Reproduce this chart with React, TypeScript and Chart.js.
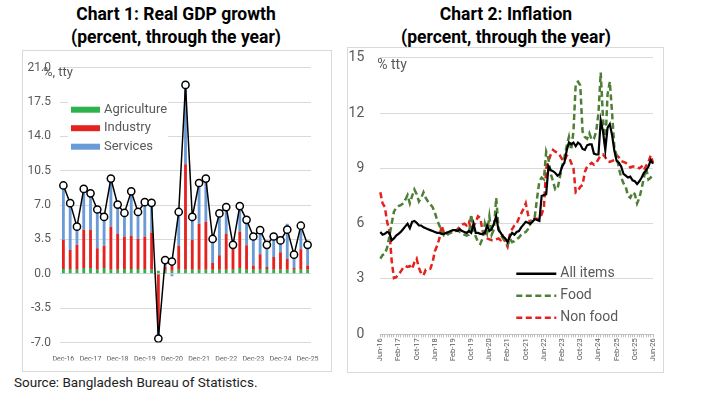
import { useEffect, useRef } from 'react';
import { Chart, registerables } from 'chart.js';

Chart.register(...registerables);

const FONT = 'Roboto, "Noto Sans", sans-serif';
const GRAY = '#595959';
const GRID = '#d9d9d9';

const MONTHS = ['Jan', 'Feb', 'Mar', 'Apr', 'May', 'Jun', 'Jul', 'Aug', 'Sep', 'Oct', 'Nov', 'Dec'];

// quarterly, Dec-16 .. Dec-25
const quarterLabels = Array.from({ length: 37 }, (_, i) => {
  const k = 11 + i * 3;
  return `${MONTHS[k % 12]}-${16 + Math.floor(k / 12)}`;
});

// monthly, Jun-16 .. Jun-26
const monthLabels = Array.from({ length: 121 }, (_, i) => {
  const k = 5 + i;
  return `${MONTHS[k % 12]}-${16 + Math.floor(k / 12)}`;
});

// Chart 1: contributions to real GDP growth
const agriculture = [
  0.5, 0.5, 0.4, 0.6, 0.6, 0.4, 0.6, 0.4, 0.4, 0.5, 0.5, 0.5, 0.5, 0.4, 0.3, 0.3, 0.3, 0.4, 0.4,
  0.4, 0.4, 0.4, 0.4, 0.4, 0.4, 0.4, 0.6, 0.4, 0.4, 0.4, 0.5, 0.4, 0.4, 0.4, 0.4, 0.4, 0.4,
];
const industry = [
  2.95, 1.93, 2.57, 3.9, 3.9, 2.2, 2.27, 4.4, 3.65, 3.3, 3.35, 3.05, 3.3, 3.8, -5.5, 0.4, 1.2, 2.45,
  10.75, 3.05, 4.7, 4.9, 0.7, 1.5, 3.65, 2.5, 3.7, 2.5, 0.45, 1.6, 0.2, 1.3, 1.8, 1.1, 0.2, 2.1, 0.45,
];
const services = [
  5.55, 4.77, 1.83, 4.15, 3.7, 3.95, 2.93, 4.9, 3.0, 2.4, 4.55, 2.75, 3.5, 3.03, -1.4, 0.7, -0.25,
  3.45, 8.1, 2.35, 4.15, 4.4, 2.45, 4.25, 2.75, 0.1, 2.6, 2.6, 2.95, 2.45, 2.25, 2.1, 1.2, 3.6, 1.35,
  1.95, 2.1,
];
const gdpTotal = [
  9.0, 7.2, 4.8, 8.65, 8.2, 6.55, 5.8, 9.7, 7.05, 6.2, 8.4, 6.3, 7.3, 7.23, -6.6, 1.4, 1.25, 6.3,
  19.25, 5.8, 9.25, 9.7, 3.55, 6.15, 6.8, 2.95, 6.9, 5.5, 3.8, 4.45, 2.95, 3.8, 3.4, 4.5, 1.95, 4.9,
  2.95,
];

// Chart 2: inflation, monthly
const allItems = [
  5.55, 5.4, 5.45, 5.55, 5.5, 5.1, 5.2, 5.35, 5.45, 5.55, 5.7, 5.85, 6.0, 5.75, 6.1, 6.15, 6.05,
  5.9, 5.9, 5.8, 5.75, 5.7, 5.65, 5.6, 5.55, 5.5, 5.5, 5.45, 5.45, 5.5, 5.55, 5.6, 5.65, 5.65, 5.6,
  5.7, 5.6, 5.55, 5.5, 5.6, 5.5, 6.0, 5.5, 5.5, 5.45, 5.45, 5.5, 5.9, 5.6, 5.7, 6.0, 6.4, 5.65, 5.5,
  5.3, 5.2, 5.0, 5.3, 5.5, 5.4, 5.55, 5.6, 5.8, 5.95, 6.1, 6.05, 6.0, 6.1, 6.25, 6.2, 6.15, 7.5,
  7.55, 7.6, 9.1, 8.9, 8.85, 8.75, 8.6, 8.7, 9.1, 9.3, 9.95, 10.4, 10.3, 10.4, 10.2, 10.4, 10.3,
  10.05, 10.0, 10.25, 10.3, 10.3, 9.8, 9.75, 9.75, 11.6, 11.0, 10.0, 11.2, 11.4, 10.8, 9.95, 9.4,
  9.3, 9.1, 8.7, 8.6, 8.5, 8.55, 8.35, 8.3, 8.15, 8.3, 8.5, 8.75, 8.9, 9.1, 9.45, 9.25,
];
const food = [
  4.1, 4.3, 4.35, 4.7, 5.3, 6.0, 6.65, 6.85, 6.95, 7.0, 7.1, 7.3, 7.55, 7.1, 7.5, 7.85, 7.6, 7.2,
  7.4, 7.7, 7.4, 7.2, 7.05, 6.9, 6.6, 6.2, 5.9, 5.6, 5.35, 5.3, 5.45, 5.5, 5.55, 5.6, 5.65, 5.55,
  5.5, 5.4, 5.35, 5.4, 6.5, 5.6, 5.3, 5.0, 4.9, 5.2, 6.0, 5.5, 6.4, 5.4, 5.7, 7.4, 5.8, 5.4, 5.2,
  5.0, 4.85, 5.2, 5.0, 5.05, 5.15, 5.25, 5.4, 5.5, 5.55, 5.7, 6.0, 6.3, 6.4, 7.4, 8.3, 8.5, 8.4,
  9.9, 9.5, 8.7, 8.3, 7.85, 7.9, 8.5, 9.1, 9.6, 10.2, 10.7, 10.0, 11.0, 13.6, 13.7, 13.5, 11.0,
  10.7, 10.6, 10.9, 10.55, 10.6, 11.0, 12.0, 14.2, 11.7, 10.2, 13.0, 13.7, 12.0, 10.1, 9.7, 9.0,
  8.5, 8.2, 8.0, 7.5, 7.4, 7.7, 7.6, 7.1, 7.4, 7.9, 8.5, 9.0, 8.4, 8.5, 8.7,
];
const nonFood = [
  7.7, 7.1, 6.9, 6.1, 5.6, 4.0, 3.05, 3.1, 3.25, 3.4, 3.6, 3.7, 3.65, 3.7, 3.55, 3.9, 4.1, 3.6,
  3.3, 3.2, 3.5, 3.5, 3.55, 3.9, 4.5, 4.8, 5.2, 5.9, 5.5, 5.4, 5.5, 5.55, 5.6, 5.6, 5.7, 5.85, 5.95,
  6.0, 5.9, 6.1, 5.7, 5.85, 6.1, 6.4, 6.3, 5.6, 5.5, 5.2, 5.15, 5.1, 5.1, 5.15, 5.2, 5.1, 5.3, 5.0,
  4.75, 5.4, 5.7, 5.9, 6.0, 6.3, 6.55, 6.8, 7.1, 6.5, 6.0, 6.2, 6.3, 6.25, 6.3, 6.5, 6.9, 9.0, 9.4,
  9.75, 10.0, 9.9, 9.85, 9.7, 9.5, 9.4, 9.7, 9.6, 9.3, 9.0, 7.7, 7.8, 8.0, 8.1, 8.8, 9.1, 9.2, 9.3,
  9.2, 9.3, 9.5, 9.7, 9.75, 9.6, 9.4, 9.35, 9.4, 9.45, 9.7, 9.6, 9.4, 9.35, 9.3, 9.2, 9.05, 9.1,
  9.1, 9.05, 9.0, 9.1, 8.9, 9.15, 9.35, 9.7, 9.3,
];

const gdpLegendItems: [string, string][] = [
  ['Agriculture', '#2eb24c'],
  ['Industry', '#e42320'],
  ['Services', '#6b9bd6'],
];

const gdpDecor = {
  id: 'gdpDecor',
  beforeDatasetsDraw(chart: Chart) {
    const { ctx, chartArea } = chart;
    const x = chartArea.left + 11;
    const y0 = chartArea.top + 42;
    ctx.save();
    ctx.fillStyle = '#fff';
    ctx.fillRect(x - 3, y0 - 10, 100, 56);
    ctx.font = `13px ${FONT}`;
    ctx.textBaseline = 'middle';
    gdpLegendItems.forEach(([label, color], i) => {
      const cy = y0 + i * 18.5;
      ctx.fillStyle = color;
      ctx.fillRect(x, cy - 3, 29, 6);
      ctx.fillStyle = GRAY;
      ctx.fillText(label, x + 33, cy);
    });
    ctx.fillStyle = GRAY;
    ctx.fillText('%, tty', chartArea.left - 17, chartArea.top + 5);
    ctx.restore();
  },
};

const inflLegendItems: [string, string, number[]][] = [
  ['All items', '#000000', []],
  ['Food', '#4f7f37', [6, 3.5]],
  ['Non food', '#e4211c', [6, 3.5]],
];

const inflDecor = {
  id: 'inflDecor',
  afterDatasetsDraw(chart: Chart) {
    const { ctx, chartArea } = chart;
    const x = chartArea.left + 136;
    const y0 = chartArea.top + 216;
    ctx.save();
    ctx.font = `14px ${FONT}`;
    ctx.textBaseline = 'middle';
    inflLegendItems.forEach(([label, color, dash], i) => {
      const cy = y0 + i * 22;
      ctx.strokeStyle = color;
      ctx.lineWidth = 2.5;
      ctx.setLineDash(dash);
      ctx.beginPath();
      ctx.moveTo(x, cy);
      ctx.lineTo(x + 40, cy);
      ctx.stroke();
      ctx.fillStyle = GRAY;
      ctx.fillText(label, x + 44, cy);
    });
    ctx.setLineDash([]);
    ctx.fillText('% tty', chartArea.left - 3, chartArea.top + 8);
    ctx.restore();
  },
};

function GdpChart() {
  const canvasRef = useRef<HTMLCanvasElement>(null);

  useEffect(() => {
    if (!canvasRef.current) return;
    const chart = new Chart(canvasRef.current, {
      type: 'bar',
      data: {
        labels: quarterLabels,
        datasets: [
          {
            type: 'line',
            label: 'Total',
            data: gdpTotal,
            stack: 'total',
            borderColor: '#000',
            borderWidth: 1.5,
            pointRadius: 3.6,
            pointBackgroundColor: '#fff',
            pointBorderColor: '#000',
            pointBorderWidth: 1.5,
            tension: 0,
            order: 0,
          } as any,
          { label: 'Agriculture', data: agriculture, backgroundColor: '#2eb24c', stack: 'gdp', order: 1 },
          { label: 'Industry', data: industry, backgroundColor: '#e42320', stack: 'gdp', order: 1 },
          { label: 'Services', data: services, backgroundColor: '#6b9bd6', stack: 'gdp', order: 1 },
        ],
      },
      options: {
        animation: false,
        responsive: true,
        maintainAspectRatio: false,
        datasets: { bar: { barPercentage: 0.42, categoryPercentage: 1 } },
        layout: { padding: { top: 16.7, right: 20, bottom: 10.5, left: 0 } },
        plugins: { legend: { display: false }, tooltip: { enabled: false } },
        scales: {
          x: {
            stacked: true,
            offset: true,
            grid: { display: false },
            border: { display: false },
            ticks: {
              autoSkip: false,
              maxRotation: 0,
              minRotation: 0,
              padding: 5,
              color: GRAY,
              font: { size: 7, family: FONT },
              callback: (_v: any, i: number) => (i % 4 === 0 ? quarterLabels[i] : ''),
            },
            afterFit: (s: any) => {
              s.height = 18;
            },
          },
          y: {
            stacked: true,
            min: -7,
            max: 21,
            grid: { color: GRID, drawTicks: false },
            border: { display: false },
            ticks: {
              stepSize: 3.5,
              padding: 9,
              color: GRAY,
              font: { size: 12, family: FONT },
              callback: (v: any) => Number(v).toFixed(1),
            },
            afterFit: (s: any) => {
              s.width = 37;
              s.paddingTop = 0;
              s.paddingBottom = 0;
            },
          },
        },
      },
      plugins: [gdpDecor],
    });
    return () => chart.destroy();
  }, []);

  return <canvas ref={canvasRef} />;
}

function InflationChart() {
  const canvasRef = useRef<HTMLCanvasElement>(null);

  useEffect(() => {
    if (!canvasRef.current) return;
    const chart = new Chart(canvasRef.current, {
      type: 'line',
      data: {
        labels: monthLabels,
        datasets: [
          { label: 'All items', data: allItems, borderColor: '#000', borderWidth: 2.2, pointRadius: 0, tension: 0 },
          { label: 'Food', data: food, borderColor: '#4f7f37', borderWidth: 2.5, borderDash: [6, 3.5], pointRadius: 0, tension: 0 },
          { label: 'Non food', data: nonFood, borderColor: '#e4211c', borderWidth: 2.5, borderDash: [6, 3.5], pointRadius: 0, tension: 0 },
        ],
      },
      options: {
        animation: false,
        responsive: true,
        maintainAspectRatio: false,
        layout: { padding: { top: 9.7, right: 9.7, bottom: 7.7, left: 0 } },
        plugins: { legend: { display: false }, tooltip: { enabled: false } },
        scales: {
          x: {
            grid: { display: true, drawOnChartArea: false, drawTicks: true, tickLength: 3, color: '#bfbfbf' },
            border: { display: true, color: '#bfbfbf' },
            ticks: {
              autoSkip: false,
              minRotation: 90,
              maxRotation: 90,
              padding: 1,
              color: GRAY,
              font: { size: 7.5, family: FONT },
              callback: (_v: any, i: number) => (i % 8 === 0 ? monthLabels[i] : ''),
            },
            afterFit: (s: any) => {
              s.height = 30;
            },
          },
          y: {
            min: 0,
            max: 15,
            grid: { color: GRID, drawTicks: false },
            border: { display: false },
            ticks: { stepSize: 3, padding: 16, color: GRAY, font: { size: 14, family: FONT } },
            afterFit: (s: any) => {
              s.width = 32.3;
              s.paddingTop = 0;
              s.paddingBottom = 0;
            },
          },
        },
      },
      plugins: [inflDecor],
    });
    return () => chart.destroy();
  }, []);

  return <canvas ref={canvasRef} />;
}

const titleStyle: React.CSSProperties = {
  position: 'absolute',
  top: 3,
  width: 320,
  textAlign: 'center',
  fontFamily: FONT,
  fontWeight: 700,
  fontSize: 17.5,
  lineHeight: '23px',
  color: '#000',
};

const boxStyle: React.CSSProperties = {
  position: 'absolute',
  border: '1px solid #d9d9d9',
  boxSizing: 'border-box',
};

export default function App() {
  return (
    <div
      style={{
        position: 'fixed',
        left: 0,
        top: 0,
        width: 708,
        height: 406,
        background: '#fff',
        overflow: 'hidden',
      }}
    >
      <div style={{ ...titleStyle, left: 16 }}>
        Chart 1: Real GDP growth
        <br />
        (percent, through the year)
      </div>
      <div style={{ ...titleStyle, left: 346 }}>
        Chart 2: Inflation
        <br />
        (percent, through the year)
      </div>
      <div style={{ ...boxStyle, left: 22, top: 50, width: 310, height: 322 }}>
        <div style={{ position: 'relative', width: '100%', height: '100%' }}>
          <GdpChart />
        </div>
      </div>
      <div style={{ ...boxStyle, left: 347, top: 47, width: 317, height: 326 }}>
        <div style={{ position: 'relative', width: '100%', height: '100%' }}>
          <InflationChart />
        </div>
      </div>
      <div
        style={{
          position: 'absolute',
          left: 14,
          top: 374,
          fontFamily: FONT,
          fontSize: 13.5,
          color: '#222',
        }}
      >
        Source: Bangladesh Bureau of Statistics.
      </div>
    </div>
  );
}
